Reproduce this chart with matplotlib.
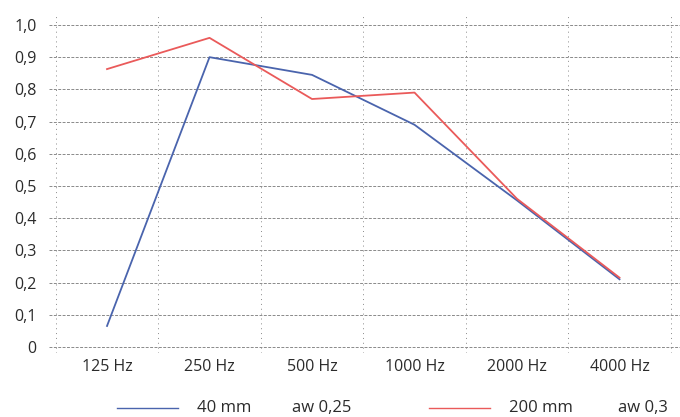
import matplotlib
matplotlib.use("Agg")
import matplotlib.pyplot as plt
from matplotlib.lines import Line2D

plt.rcParams['font.family'] = ['Open Sans', 'DejaVu Sans']

# Data
freqs = ['125 Hz', '250 Hz', '500 Hz', '1000 Hz', '2000 Hz', '4000 Hz']
mm40 = [0.065, 0.90, 0.845, 0.69, 0.455, 0.21]
mm200 = [0.863, 0.96, 0.77, 0.79, 0.46, 0.215]
yticks = [0, 0.1, 0.2, 0.3, 0.4, 0.5, 0.6, 0.7, 0.8, 0.9, 1.0]
ylabels = ['0', '0,1', '0,2', '0,3', '0,4', '0,5', '0,6', '0,7', '0,8', '0,9', '1,0']

blue = '#4a64ad'
red = '#ea5a5a'
txt = '#2b2b2b'
W, H = 680, 417

fig = plt.figure(figsize=(6.8, 4.17), dpi=100)
# axes spans from x=49 to 680 px, y=15 to 353 px
ax = fig.add_axes([49 / W, 1 - 353 / H, (680 - 49) / W, (353 - 15) / H])
ax.set_xlim(-0.566, 5.59)
ax.set_ylim(-0.019, 1.031)

for y in yticks:
    ax.axhline(y, color='#8a8a8a', lw=0.7, ls=(0, (3, 1.5)), zorder=1)
for i in range(len(freqs) + 1):
    ax.axvline(i - 0.5, color='#8a8a8a', lw=0.7, ls=(0, (1, 4)), zorder=1)

x = list(range(len(freqs)))
ax.plot(x, mm40, color=blue, lw=1.3, zorder=3)
ax.plot(x, mm200, color=red, lw=1.3, zorder=3)

ax.set_xticks(x)
ax.set_xticklabels(freqs)
ax.set_yticks(yticks)
ax.set_yticklabels(ylabels)
ax.tick_params(length=0, labelsize=11.5, labelcolor=txt)
ax.tick_params(axis='y', pad=9)
ax.tick_params(axis='x', pad=4)
for s in ax.spines.values():
    s.set_visible(False)

# legend row
ly = 1 - 408 / H
fs = 12
fig.add_artist(Line2D([117 / W, 178 / W], [ly, ly], color=blue, lw=1.0))
fig.text(197 / W, ly, '40 mm', fontsize=fs, color=txt, va='center')
fig.text(292 / W, ly, 'aw 0,25', fontsize=fs, color=txt, va='center')
fig.add_artist(Line2D([429 / W, 490 / W], [ly, ly], color=red, lw=1.0))
fig.text(509 / W, ly, '200 mm', fontsize=fs, color=txt, va='center')
fig.text(618 / W, ly, 'aw 0,3', fontsize=fs, color=txt, va='center')

plt.savefig('out.png', dpi=100)
